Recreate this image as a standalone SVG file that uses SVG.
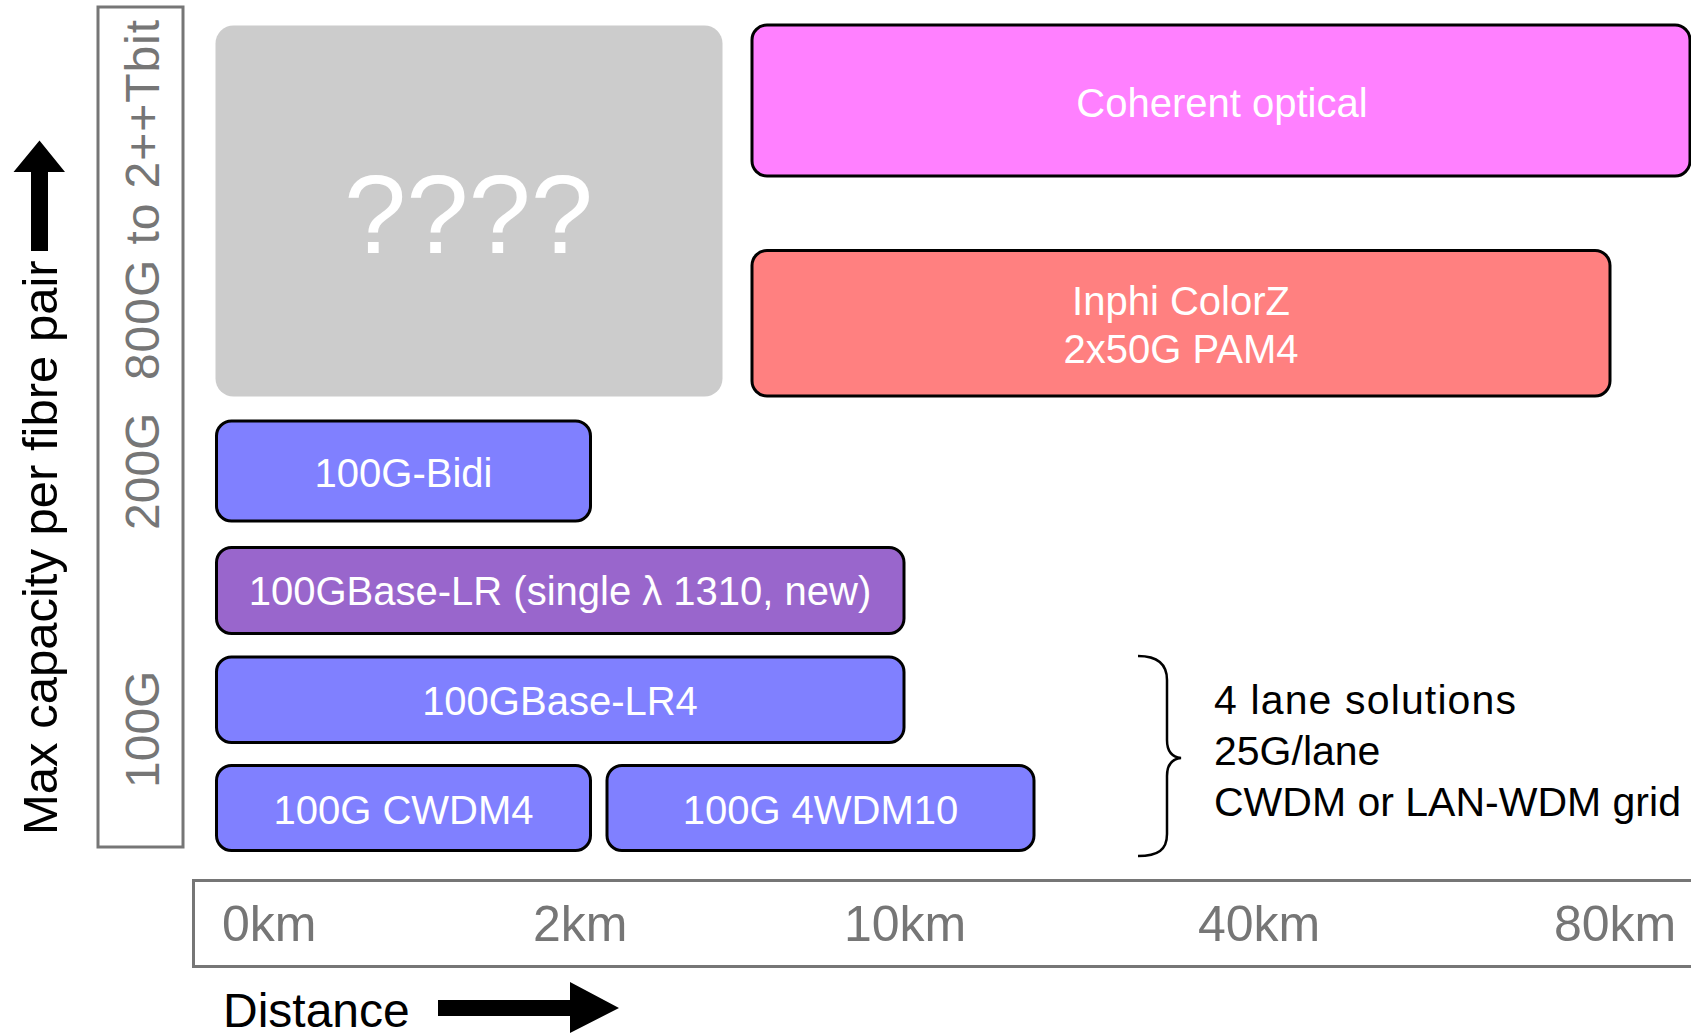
<svg xmlns="http://www.w3.org/2000/svg" width="1691" height="1034" viewBox="0 0 1691 1034">
<style>
  text { font-family: "Liberation Sans", Arial, sans-serif; }
  .box { stroke: #000; stroke-width: 3; }
  .blue { fill: #8080ff; }
  .lbl { fill: #fff; font-size: 40px; text-anchor: middle; }
  .axisbox { fill: none; stroke: #767676; stroke-width: 3; }
  .ylbl { fill: #767676; font-size: 48px; }
  .xlbl { fill: #767676; font-size: 50px; }
  .note { fill: #000; font-size: 41px; }
</style>
<rect width="1691" height="1034" fill="#fff"/>

<g id="y-axis">
  <polygon points="39.5,140.5 65,172 48,172 48,251 31,251 31,172 13.5,172" fill="#000"/>
  <text transform="translate(57,835) rotate(-90)" font-size="49" fill="#000">Max capacity per fibre pair</text>
  <rect class="axisbox" x="98" y="7" width="85" height="840"/>
  <text class="ylbl" transform="translate(159,788) rotate(-90)">100G</text>
  <text class="ylbl" transform="translate(159,530) rotate(-90)">200G</text>
  <text class="ylbl" transform="translate(159,380) rotate(-90)" font-size="50" textLength="360" lengthAdjust="spacing">800G to 2++Tbit</text>
</g>

<g id="x-axis">
  <rect class="axisbox" x="193.5" y="880.5" width="1520" height="86"/>
  <text class="xlbl" x="222" y="941">0km</text>
  <text class="xlbl" x="533" y="941">2km</text>
  <text class="xlbl" x="844" y="941">10km</text>
  <text class="xlbl" x="1198" y="941">40km</text>
  <text class="xlbl" x="1554" y="941">80km</text>
  <text x="223" y="1027" font-size="48" fill="#000">Distance</text>
  <polygon points="438,1000 570,1000 570,982 619,1008 570,1033 570,1016 438,1016" fill="#000"/>
</g>

<g id="unknown">
  <rect x="215.5" y="25.5" width="507" height="371" rx="18" fill="#cccccc"/>
  <text x="468.5" y="253" font-size="112" fill="#fff" text-anchor="middle">????</text>
</g>

<g id="coherent">
  <rect class="box" x="752" y="25" width="938" height="151" rx="15" fill="#ff80ff"/>
  <text class="lbl" x="1222" y="116.5">Coherent optical</text>
</g>

<g id="inphi">
  <rect class="box" x="752" y="250.5" width="858" height="145.5" rx="15" fill="#ff8080"/>
  <text class="lbl" x="1181" y="315">Inphi ColorZ</text>
  <text class="lbl" x="1181" y="363">2x50G PAM4</text>
</g>

<g id="bidi">
  <rect class="box blue" x="216.5" y="421" width="374" height="100" rx="15"/>
  <text class="lbl" x="403.5" y="487">100G-Bidi</text>
</g>

<g id="lr-single">
  <rect class="box" x="216.5" y="547.5" width="687.5" height="86" rx="15" fill="#9966cc"/>
  <text class="lbl" x="560" y="605">100GBase-LR (single λ 1310, new)</text>
</g>

<g id="lr4">
  <rect class="box blue" x="216.5" y="657" width="687.5" height="85.5" rx="15"/>
  <text class="lbl" x="560" y="715">100GBase-LR4</text>
</g>

<g id="cwdm4">
  <rect class="box blue" x="216.5" y="765.5" width="374" height="85" rx="15"/>
  <text class="lbl" x="403.5" y="823.5">100G CWDM4</text>
</g>

<g id="4wdm10">
  <rect class="box blue" x="607" y="765.5" width="427" height="85" rx="15"/>
  <text class="lbl" x="820.5" y="823.5">100G 4WDM10</text>
</g>

<g id="connectors">
  <path d="M1138,656 C1158,656 1167,664 1167,680 L1167,740 C1167,752 1172,757 1181,758 C1172,759 1167,764 1167,776 L1167,834 C1167,850 1158,856 1138,856" fill="none" stroke="#000" stroke-width="2.5"/>
</g>

<g id="four-lane-note">
  <text class="note" x="1214" y="714" textLength="302" lengthAdjust="spacing">4 lane solutions</text>
  <text class="note" x="1214" y="765">25G/lane</text>
  <text class="note" x="1214" y="816">CWDM or LAN-WDM grid</text>
</g>
</svg>
